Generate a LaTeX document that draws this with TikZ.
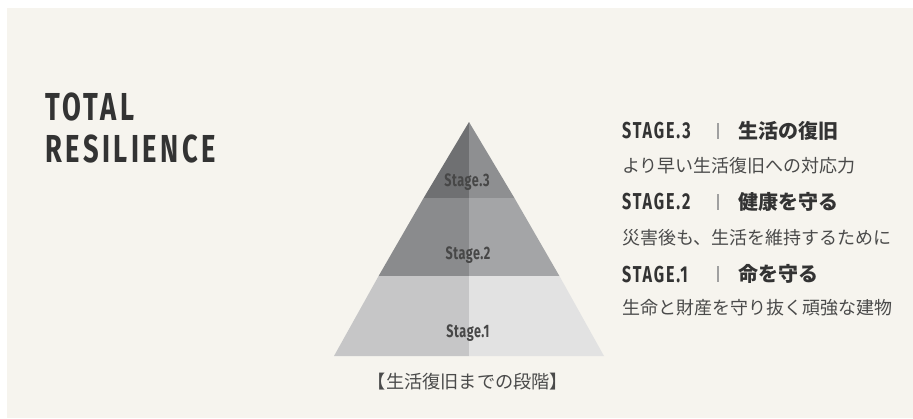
\documentclass[tikz,border=0pt]{standalone}
\usepackage{fontspec}
\newfontfamily\condT[FakeStretch=0.7,LetterSpace=9]{Fira Sans}
\newfontfamily\condH[FakeStretch=0.7,LetterSpace=8]{Fira Sans}
\newfontfamily\condS[FakeStretch=0.7,LetterSpace=3]{Fira Sans}
\newfontfamily\cjk{Noto Sans CJK JP}
\definecolor{bg}{HTML}{F6F4EE}
\definecolor{ink}{HTML}{333333}
\definecolor{sub}{HTML}{4A4A4A}
\definecolor{barc}{HTML}{A0A0A0}
\definecolor{sThreeL}{HTML}{6F7072}
\definecolor{sThreeR}{HTML}{8E8F91}
\definecolor{sTwoL}{HTML}{8A8B8D}
\definecolor{sTwoR}{HTML}{A4A5A7}
\definecolor{sOneL}{HTML}{C6C6C7}
\definecolor{sOneR}{HTML}{E2E2E2}
\tikzset{
  title/.style={font=\condT\bfseries\fontsize{39}{42}\selectfont, text=ink, anchor=west, inner sep=0pt},
  stagelbl/.style={font=\condS\bfseries\fontsize{18}{20}\selectfont, text=ink!90, inner sep=0pt},
  stagehead/.style={font=\condH\bfseries\fontsize{23}{25}\selectfont, text=ink, anchor=west, inner sep=0pt},
  jphead/.style={font=\cjk\bfseries\fontsize{20}{22}\selectfont, text=ink, anchor=west, inner sep=0pt},
  jpline/.style={font=\cjk\fontsize{18}{20}\selectfont, text=sub, anchor=west, inner sep=0pt},
  sepbar/.style={draw=barc, line width=1.2pt},
}
\begin{document}
\begin{tikzpicture}[x=1pt,y=-1pt]
\useasboundingbox (0,0) rectangle (913,418);
\fill[white] (0,0) rectangle (913,418);
\fill[bg] (7,8) rectangle (913,418);
% pyramid
\fill[sThreeL] (469,122) -- (423.6,198) -- (469,198) -- cycle;
\fill[sThreeR] (469,122) -- (514.4,198) -- (469,198) -- cycle;
\fill[sTwoL] (423.6,198) -- (378.6,276) -- (469,276) -- (469,198) -- cycle;
\fill[sTwoR] (514.4,198) -- (559.4,276) -- (469,276) -- (469,198) -- cycle;
\fill[sOneL] (378.6,276) -- (334,356) -- (469,356) -- (469,276) -- cycle;
\fill[sOneR] (559.4,276) -- (604,356) -- (469,356) -- (469,276) -- cycle;
\node[stagelbl] (s3) at (467,182) {Stage.3};
\node[stagelbl] (s2) at (468,255) {Stage.2};
\node[stagelbl] (s1) at (468,333) {Stage.1};
% title
\node[title] (t1) at (45,106.5) {TOTAL};
\node[title] (t2) at (45,148.5) {RESILIENCE};
% right texts
\node[stagehead] (h3) at (622,131) {STAGE.3};
\draw[sepbar] (718,123) -- (718,139);
\node[jphead] (j3) at (738,130.5) {生活の復旧};
\node[jpline] (d3) at (622,165.5) {より早い生活復旧への対応力};
\node[stagehead] (h2) at (622,202) {STAGE.2};
\draw[sepbar] (718,194) -- (718,210);
\node[jphead] (j2) at (738,201.5) {健康を守る};
\node[jpline] (d2) at (622,237.5) {災害後も、生活を維持するために};
\node[stagehead] (h1) at (622,274.5) {STAGE.1};
\draw[sepbar] (718,266) -- (718,282);
\node[jphead] (j1) at (738,274) {命を守る};
\node[jpline] (d1) at (622,307.5) {生命と財産を守り抜く頑強な建物};
% caption
\node[font=\cjk\fontsize{18.2}{20}\selectfont, text=sub, inner sep=0pt] (cap) at (468,382) {【生活復旧までの段階】};
\end{tikzpicture}
\end{document}
